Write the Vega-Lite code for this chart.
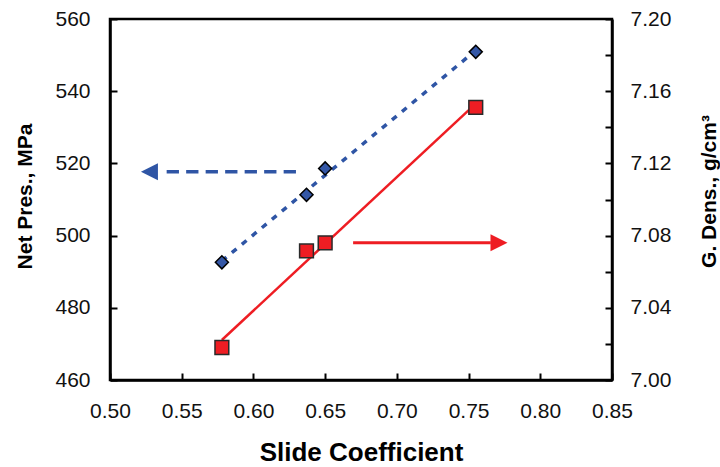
{
  "$schema": "https://vega.github.io/schema/vega-lite/v6.json",
  "width": 502,
  "height": 361,
  "autosize": {"type": "none"},
  "padding": {"left": 110, "top": 19, "right": 108, "bottom": 87},
  "background": "white",
  "config": {
    "font": "Liberation Sans",
    "view": {"stroke": "black", "strokeWidth": 2.5},
    "axis": {
      "grid": false,
      "labelFlush": false,
      "domainColor": "black",
      "domainWidth": 2.5,
      "tickColor": "black",
      "tickWidth": 2,
      "tickSize": -7,
      "labelFont": "Liberation Sans",
      "labelFontSize": 21,
      "labelColor": "#111111",
      "titleFont": "Liberation Sans",
      "titleFontWeight": "bold",
      "titleColor": "black"
    }
  },
  "datasets": {
    "diamonds": [
      {"slide": 0.578, "press": 492.6},
      {"slide": 0.637, "press": 511.3},
      {"slide": 0.650, "press": 518.6},
      {"slide": 0.755, "press": 550.9}
    ],
    "squares": [
      {"slide": 0.578, "dens": 7.018},
      {"slide": 0.637, "dens": 7.0715},
      {"slide": 0.650, "dens": 7.076},
      {"slide": 0.755, "dens": 7.151}
    ],
    "blueArrow": [
      {"slide": 0.6297, "press": 517.7},
      {"slide": 0.5395, "press": 517.7}
    ],
    "blueTip": [{"slide": 0.5275, "press": 517.7}],
    "redArrow": [
      {"slide": 0.6695, "dens": 7.076},
      {"slide": 0.7655, "dens": 7.076}
    ],
    "redTip": [{"slide": 0.7712, "dens": 7.076}]
  },
  "layer": [
    {
      "encoding": {
        "x": {
          "field": "slide",
          "type": "quantitative",
          "title": "Slide Coefficient",
          "scale": {"domain": [0.5, 0.85], "nice": false, "zero": false},
          "axis": {
            "title": "Slide Coefficient",
            "values": [0.5, 0.55, 0.6, 0.65, 0.7, 0.75, 0.8, 0.85],
            "format": ".2f",
            "labelPadding": 27,
            "titleFontSize": 26,
            "titleX": 251,
            "titleY": 72,
            "titleBaseline": "middle"
          }
        },
        "y": {
          "field": "press",
          "type": "quantitative",
          "title": "Net Pres.,  MPa",
          "scale": {"domain": [460, 560], "nice": false, "zero": false},
          "axis": {
            "title": "Net Pres.,  MPa",
            "values": [460, 480, 500, 520, 540, 560],
            "labelPadding": 27,
            "titleFontSize": 21,
            "titleAngle": -90,
            "titleX": -85,
            "titleY": 177,
            "titleAlign": "center",
            "titleBaseline": "middle"
          }
        }
      },
      "layer": [
        {
          "data": {"name": "diamonds"},
          "transform": [{"regression": "press", "on": "slide"}],
          "mark": {"type": "line", "color": "#2F55A5", "strokeWidth": 3.5, "strokeDash": [6, 7]}
        },
        {
          "data": {"name": "blueArrow"},
          "mark": {"type": "line", "color": "#2F55A5", "strokeWidth": 3.5, "strokeDash": [12.3, 7.2]}
        },
        {
          "data": {"name": "blueTip"},
          "mark": {"type": "point", "shape": "M-1,0L1,-1L1,1Z", "size": 289, "filled": true, "color": "#2F55A5", "opacity": 1}
        },
        {
          "data": {"name": "diamonds"},
          "mark": {"type": "point", "shape": "diamond", "size": 170, "filled": true, "fill": "#3457A6", "stroke": "black", "strokeWidth": 1.5, "opacity": 1}
        }
      ]
    },
    {
      "encoding": {
        "x": {
          "field": "slide",
          "type": "quantitative",
          "title": "Slide Coefficient",
          "scale": {"domain": [0.5, 0.85], "nice": false, "zero": false}
        },
        "y": {
          "field": "dens",
          "type": "quantitative",
          "title": "G. Dens.,  g/cm³",
          "scale": {"domain": [7.0, 7.2], "nice": false, "zero": false},
          "axis": {
            "orient": "right",
            "title": "G. Dens.,  g/cm³",
            "values": [7.0, 7.02, 7.04, 7.06, 7.08, 7.1, 7.12, 7.14, 7.16, 7.18, 7.2],
            "labelExpr": "(round(datum.value*100) % 4 == 0) ? format(datum.value, '.2f') : ''",
            "labelPadding": 25,
            "titleFontSize": 21,
            "titleAngle": -90,
            "titleX": 97,
            "titleY": 172,
            "titleAlign": "center",
            "titleBaseline": "middle"
          }
        }
      },
      "layer": [
        {
          "data": {"name": "squares"},
          "transform": [{"regression": "dens", "on": "slide"}],
          "mark": {"type": "line", "color": "#EE1D23", "strokeWidth": 2.5}
        },
        {
          "data": {"name": "redArrow"},
          "mark": {"type": "line", "color": "#EE1D23", "strokeWidth": 3}
        },
        {
          "data": {"name": "redTip"},
          "mark": {"type": "point", "shape": "M1,0L-1,-1L-1,1Z", "size": 289, "filled": true, "color": "#EE1D23", "opacity": 1}
        },
        {
          "data": {"name": "squares"},
          "mark": {"type": "point", "shape": "square", "size": 190, "filled": true, "fill": "#EE1D23", "stroke": "#2a2a2a", "strokeWidth": 1.5, "opacity": 1}
        }
      ]
    }
  ],
  "resolve": {"scale": {"y": "independent"}}
}
